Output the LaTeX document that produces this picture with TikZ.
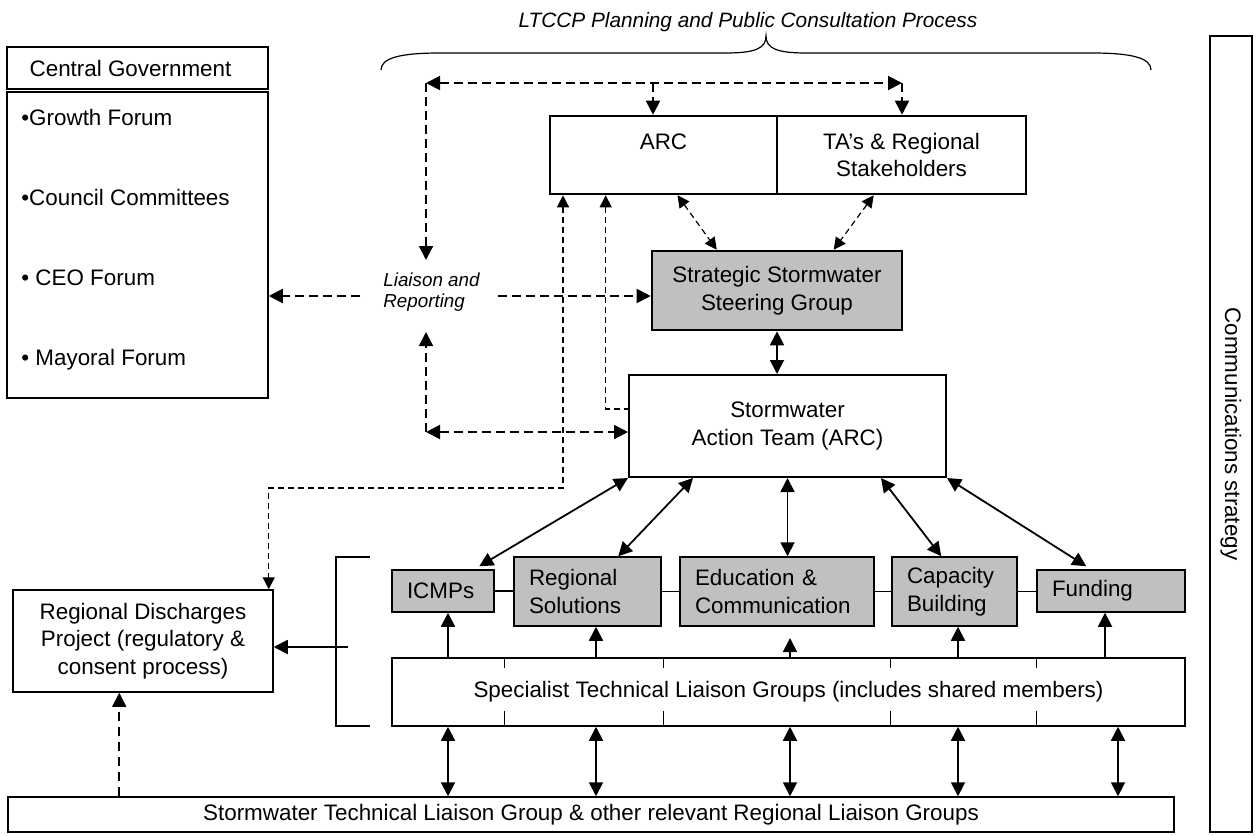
\documentclass[tikz,border=0pt]{standalone}
\usepackage{fontspec}
\setmainfont{Liberation Sans}
\usetikzlibrary{arrows.meta,calc}
\definecolor{boxgray}{HTML}{C0C0C0}
\newcommand{\dfont}{\fontsize{11.2pt}{13.8pt}\selectfont}
\begin{document}
\begin{tikzpicture}[x=0.5pt,y=-0.5pt,
  >={Triangle[length=7pt,width=7pt]},
  every node/.style={font=\dfont},
  box/.style={draw, line width=0.75pt, inner sep=0pt, align=center},
  tbox/.style={box, line width=1.3pt},
  gbox/.style={draw, fill=boxgray, line width=0.75pt, inner xsep=7.5pt, inner ysep=0pt, align=left},
  item/.style={anchor=west, inner sep=0pt},
  sarrow/.style={<->, line width=0.9pt},
  uarrow/.style={->, line width=0.9pt},
  bdash/.style={line width=1pt, dash pattern=on 4.5pt off 2.5pt},
  tdash/.style={line width=0.6pt, dash pattern=on 3pt off 2pt, >={Triangle[length=6pt,width=6pt]}},
  mdash/.style={line width=0.8pt, dash pattern=on 4.5pt off 3pt}]
\useasboundingbox (0,0) rectangle (1256,835);

% title and brace
\node[font=\itshape\fontsize{10.4pt}{12pt}\selectfont] (title) at (748,22) {LTCCP Planning and Public Consultation Process};
\draw[line width=0.6pt] (381,70) .. controls (381,58) and (400,53) .. (440,53) -- (726,53)
  .. controls (756,53) and (766,48) .. (766,36) .. controls (766,48) and (776,53) .. (806,53)
  -- (1092,53) .. controls (1132,53) and (1151,58) .. (1151,70);

% left column
\node[box, minimum width=130.5pt, minimum height=21pt] (cg) at (137.5,68) {Central Government\hspace*{7pt}};
\node[box, minimum width=130.5pt, minimum height=153pt] (list) at (137.5,245) {};
\node[item] (g1) at (21,117) {•Growth Forum};
\node[item] (g2) at (21,197) {•Council Committees};
\node[item] (g3) at (21,278) {• CEO Forum};
\node[item] (g4) at (21,360) {• Mayoral Forum};

% top boxes
\node[tbox, minimum width=113.5pt, minimum height=39pt] (arc) at (663.5,155) {ARC\\\mbox{}};
\node[tbox, minimum width=124.5pt, minimum height=39pt] (ta) at (901.5,155) {TA’s \& Regional\\Stakeholders};
\node[tbox, fill=boxgray, minimum width=125pt, minimum height=39.5pt] (sssg) at (777,290.5) {Strategic Stormwater\\Steering Group};
\node[box, line width=1pt, minimum width=158.5pt, minimum height=51pt] (sat) at (787.5,426) {Stormwater\\Action Team (ARC)};

\node[anchor=west, inner sep=0pt, align=left, font=\itshape\fontsize{9.4pt}{10.5pt}\selectfont] (liaison) at (383,292.5) {Liaison and\\Reporting};

% grey work-stream boxes
\node[gbox, minimum height=21pt, text width=36pt] (icmps) at (443,591) {ICMPs};
\node[gbox, minimum height=34.5pt, text width=58.5pt] (regsol) at (587.5,591.5) {Regional\\Solutions};
\node[gbox, minimum height=34.5pt, text width=82pt] (edu) at (777,591.5) {Education \&\\Communication};
\node[gbox, minimum height=34.5pt, text width=47.5pt] (cap) at (954.5,591.5) {Capacity\\Building};
\node[gbox, minimum height=21pt, text width=59pt] (fund) at (1111,591) {Funding};

\node[box, minimum width=396.5pt, minimum height=34pt] (spec) at (788.5,692) {Specialist Technical Liaison Groups (includes shared members)};
\node[box, minimum width=583pt, minimum height=17.5pt] (bot) at (591,814.5) {Stormwater Technical Liaison Group \& other relevant Regional Liaison Groups};
\node[box, minimum width=130pt, minimum height=51pt] (rdp) at (143,641) {Regional Discharges\\Project (regulatory \&\\consent process)};

\node[box, minimum width=21pt, minimum height=398pt] (comms) at (1231,434) {};
\node[rotate=-90] (commst) at (comms.center) {Communications strategy};

% connecting line between grey boxes
\draw[line width=0.6pt] (icmps.east) -- (icmps.east -| regsol.west);
\draw[line width=0.6pt] (regsol.east) -- (edu.west);
\draw[line width=0.6pt] (edu.east) -- (cap.west);
\draw[line width=0.6pt] (cap.east) -- (cap.east -| fund.west);

% dividers in specialist box
\foreach \xx in {113,272,499,645} {
  \draw[line width=0.6pt] ($(spec.north west)+(\xx,0)$) -- ++(0,11);
  \draw[line width=0.6pt] ($(spec.south west)+(\xx,0)$) -- ++(0,-16);
}

% top dashed structure
\coordinate (tl) at (426,83);
\coordinate (tm) at (653,83);
\coordinate (tr) at (902,83);
\coordinate (lt) at (426,260);
\coordinate (lb) at (426,332);
\coordinate (lc) at (426,432);
\draw[bdash,<->] (tl) -- (tr);
\draw[bdash,->] (tr) -- (tr |- ta.north);
\draw[bdash,->] (tm) -- (tm |- arc.north);
\draw[bdash,->] (tl) -- (lt);
\draw[bdash,->] (lc) -- (lb);
\draw[bdash,<->] (lc) -- (lc -| sat.west);
\coordinate (ll) at (360,296);
\coordinate (lr) at (498,296);
\draw[bdash,->] (ll) -- (ll -| list.east);
\draw[bdash,->] (lr) -- (lr -| sssg.west);

% ARC/TA to SSSG
\draw[tdash,<->] ($(arc.south)+(14,0)$) -- ($(sssg.north west)+(66,0)$);
\draw[tdash,<->] ($(ta.south west)+(98,0)$) -- ($(sssg.north west)+(183,0)$);

% ARC to RDP and SAT
\coordinate (k1) at (563,488);
\draw[tdash,line width=0.7pt,<->] (k1 |- arc.south) -- (k1) -| ($(rdp.north east)+(-5,0)$);
\draw[tdash,<-] ($(arc.south west)+(57,0)$) |- ($(sat.west)+(0,-17)$);

% SSSG - SAT
\draw[sarrow] (sssg.south) -- (sssg.south |- sat.north);

% SAT - work streams
\draw[sarrow] (sat.south west) -- ($(icmps.north west)+(88,-3)$);
\draw[sarrow] ($(sat.south west)+(65,0)$) -- ($(regsol.north west)+(105,0)$);
\draw[sarrow] (sat.south) -- (sat.south |- edu.north);
\draw[sarrow] ($(sat.south west)+(253,0)$) -- ($(cap.north west)+(50,0)$);
\draw[sarrow] (sat.south east) -- ($(fund.north west)+(50,-3)$);

% specialist to work streams
\coordinate (u1) at (448,658);
\coordinate (u2) at (596,658);
\coordinate (u3) at (790,658);
\coordinate (u4) at (958,658);
\coordinate (u5) at (1105,658);
\draw[uarrow] (u1) -- (u1 |- icmps.south);
\draw[uarrow] (u2) -- (u2 |- regsol.south);
\draw[uarrow] (u3) -- ++(0,-20);
\draw[uarrow] (u4) -- (u4 |- cap.south);
\draw[uarrow] (u5) -- (u5 |- fund.south);

% specialist to bottom box
\foreach \xx [count=\i] in {448,596,790,958,1118} {
  \coordinate (s\i) at (\xx,726);
  \draw[sarrow] (s\i |- spec.south) -- (s\i |- bot.north);
}

% bracket and arrow to RDP
\draw[line width=0.8pt] (370,557) -- (336,557) -- (336,726) -- (370,726);
\coordinate (bm) at (348,647);
\draw[uarrow] (bm) -- (bm -| rdp.east);

% bottom dashed to RDP
\draw[mdash,->] ($(bot.north west)+(112,0)$) -- ($(rdp.south west)+(107,0)$);
\end{tikzpicture}
\end{document}
